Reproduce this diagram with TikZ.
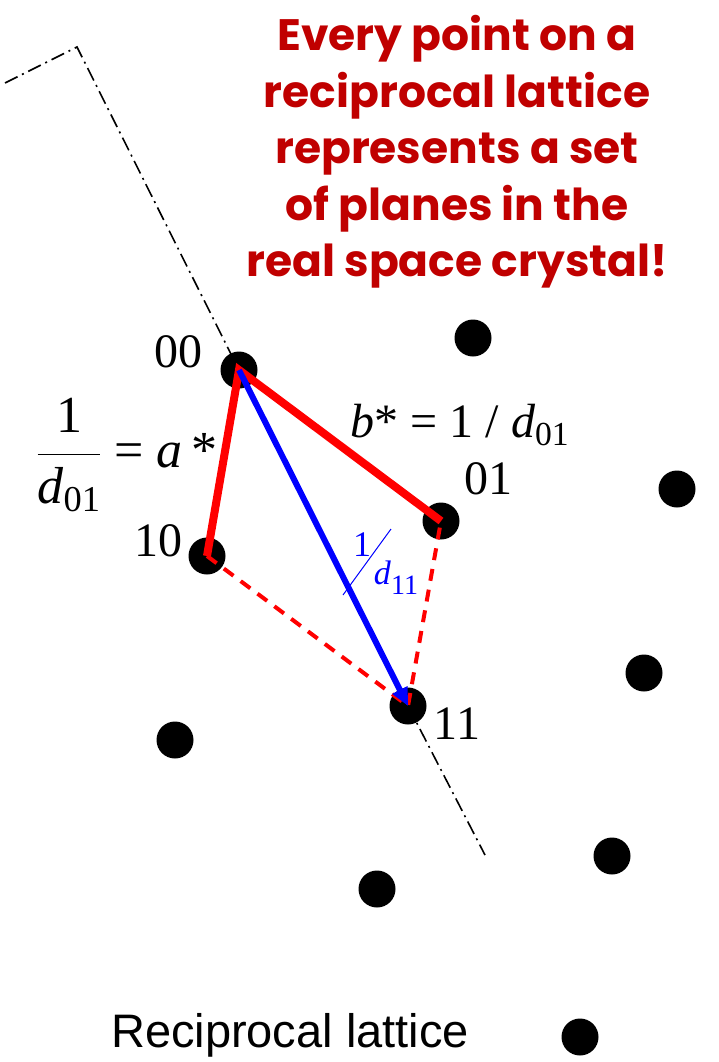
\RequirePackage{fix-cm}
\documentclass[tikz,border=0pt]{standalone}
\usepackage{amsmath}
\usepackage{fontspec}
\setmainfont{Liberation Serif}
\newfontfamily\capfont{Liberation Sans}
\newfontfamily\notefont{Poppins}
\usetikzlibrary{arrows.meta}
\definecolor{notered}{RGB}{192,0,0}
\newcommand{\vi}[1]{\text{\itshape #1}}

\begin{document}
\begin{tikzpicture}[x=1pt,y=-1pt,
  latpt/.style={circle,fill=black,minimum size=37pt,inner sep=0pt},
  idx/.style={font=\fontsize{48}{58}\selectfont},
  recvec/.style={red,line width=8pt,line join=miter},
  diag/.style={red,line width=4pt,dash pattern=on 12pt off 9pt},
  axisline/.style={line width=1.6pt,dash pattern=on 14pt off 5pt on 2pt off 5pt}]
  \useasboundingbox (0,0) rectangle (719,1062);

  % lattice points
  \node[latpt] (p00) at (239,370) {};
  \node[latpt] (p01) at (441,521) {};
  \node[latpt] (p10) at (207,556) {};
  \node[latpt] (p11) at (408,706) {};
  \node[latpt] (g1) at (473,338) {};
  \node[latpt] (g2) at (677,489) {};
  \node[latpt] (g3) at (644,673) {};
  \node[latpt] (g4) at (175,740) {};
  \node[latpt] (g5) at (612,856) {};
  \node[latpt] (g6) at (377,889) {};
  \node[latpt] (g7) at (580,1037) {};

  % dash-dot line through 00 and 11
  \coordinate (lend) at (5,83);
  \coordinate (bend) at (77,47);
  \coordinate (tail) at (485,855);
  \draw[axisline] (lend) -- (bend) -- (p00.center);
  \draw[axisline] (p11.center) -- (tail);

  % reciprocal vectors
  \draw[recvec] (p10.center) -- (p00.center) -- (p01.center);
  \draw[diag] (p10.center) -- (p11.center) -- (p01.center);
  \draw[blue,line width=6pt,-{Triangle[length=18pt,width=16pt]}] (p00.center) -- (p11.center);

  % indices
  \node[idx] (l00) at (178,352) {00};
  \node[idx] (l01) at (488,479) {01};
  \node[idx] (l10) at (158,541) {10};
  \node[idx] (l11) at (457,724) {11};

  \node[idx,font=\fontsize{52}{60}\selectfont] (astar) at (127,455) {$\displaystyle\frac{\text{1}}{\vi{d}_{\text{01}}}\text{ = }\vi{a}\,\text{*}$};
  \node[idx] (bstar) at (460,425) {$\vi{b}\text{* = 1 / }\vi{d}_{\text{01}}$};

  % 1/d11
  \node[blue,font=\fontsize{36}{40}\selectfont] (one11) at (362,545) {1};
  \node[blue,font=\fontsize{34}{40}\selectfont] (d11) at (396,578) {\textit{d}\raisebox{-0.3em}{\fontsize{28}{30}\selectfont 11}};
  \coordinate (sl1) at (343,595);
  \coordinate (sl2) at (391,529);
  \draw[blue,line width=1pt] (sl1) -- (sl2);

  \node[notered,font=\notefont\bfseries\fontsize{44}{56.5}\selectfont,align=center] (note) at (457,152)
    {Every point on a\\reciprocal lattice\\represents a set\\of planes in the\\real space crystal!};

  \node[font=\capfont\fontsize{47}{56}\selectfont,anchor=base] (cap) at (290,1047) {Reciprocal lattice};
\end{tikzpicture}
\end{document}
